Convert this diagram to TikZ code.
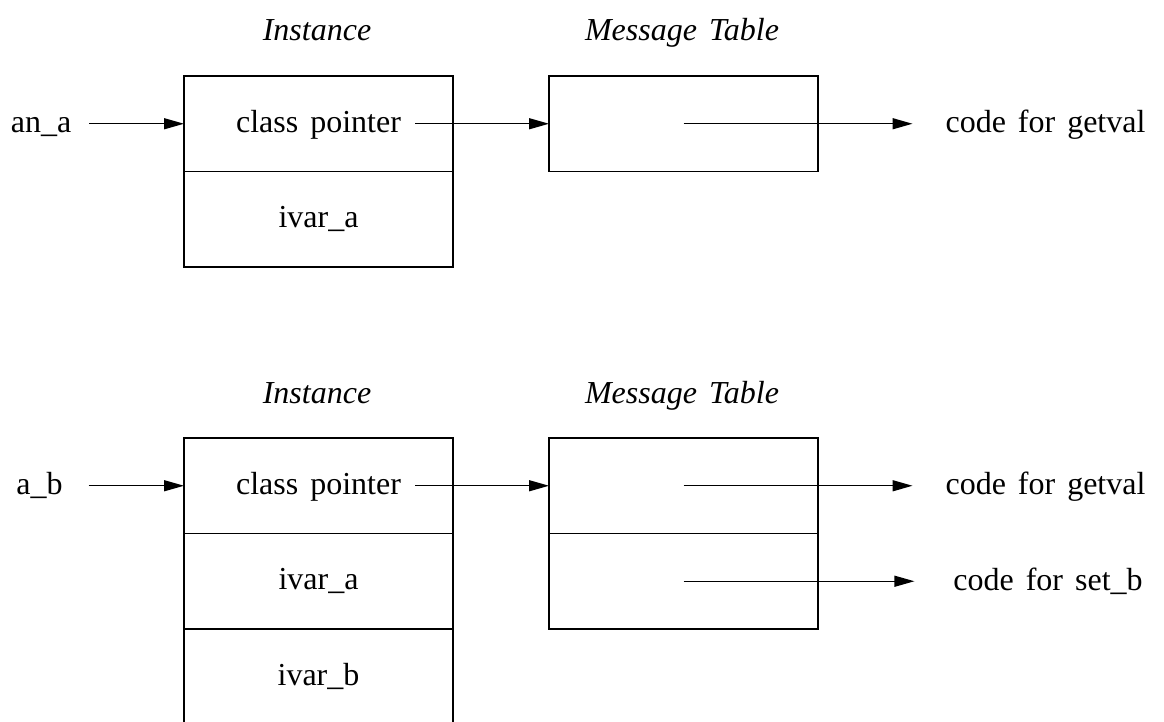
\documentclass[tikz,border=0pt]{standalone}
\usepackage{fontspec}
\setmainfont{Liberation Serif}[WordSpace=1.5]
\usetikzlibrary{arrows.meta}
\begin{document}
\begin{tikzpicture}[x=1pt,y=-1pt,
  every node/.style={font=\fontsize{32}{38}\selectfont, inner sep=0pt, outer sep=0pt},
  cell/.style={draw, line width=1.5pt, minimum width=269pt, minimum height=95.5pt},
  title/.style={font=\fontsize{32}{38}\selectfont\itshape, anchor=base},
  txt/.style={anchor=base},
  arr/.style={-{Triangle[length=20pt,width=11pt]}, line width=1.4pt}]
\clip (0,0) rectangle (1164,722);
% ---------- top diagram ----------
\node[title] (t1i) at (317,41) {Instance};
\node[title] (t1m) at (682,41) {Message Table};
\node[cell] (cp1) at (318.5,123.75) {};
\node[cell, anchor=north] (iva1) at (cp1.south) {};
\node[txt] (cp1t) at ([yshift=-8.5pt]cp1.center) {class pointer};
\node[txt] (iva1t) at ([yshift=-8.5pt]iva1.center) {ivar\_a};
\node[cell] (mt1) at (683.5,123.75) {};
\node[txt] (ana) at (41,132.5) {an\_a};
\node[txt] (cg1) at (1045.5,132.5) {code for getval};
\draw[arr] (ana.east |- cp1.west) ++(18,0) -- (cp1.west);
\draw[arr] ([xshift=96.5pt]cp1.center) -- (mt1.west);
\draw[arr] (mt1.center) -- ([xshift=-33pt]cg1.west |- mt1.center);
% ---------- bottom diagram ----------
\node[title] (t2i) at (317,403) {Instance};
\node[title] (t2m) at (682,403) {Message Table};
\node[cell] (cp2) at (318.5,485.75) {};
\node[cell, anchor=north] (iva2) at (cp2.south) {};
\node[cell, anchor=north] (ivb2) at (iva2.south) {};
\node[txt] (cp2t) at ([yshift=-8.5pt]cp2.center) {class pointer};
\node[txt] (iva2t) at ([yshift=-8.5pt]iva2.center) {ivar\_a};
\node[txt] (ivb2t) at ([yshift=-8.5pt]ivb2.center) {ivar\_b};
\node[cell] (mt2a) at (683.5,485.75) {};
\node[cell, anchor=north] (mt2b) at (mt2a.south) {};
\node[txt] (ab) at (39.5,494.5) {a\_b};
\node[txt] (cg2) at (1045.5,494.5) {code for getval};
\node[txt] (cs2) at (1048,590) {code for set\_b};
\draw[arr] (ab.east |- cp2.west) ++(26,0) -- (cp2.west);
\draw[arr] ([xshift=96.5pt]cp2.center) -- (mt2a.west);
\draw[arr] (mt2a.center) -- ([xshift=-33pt]cg2.west |- mt2a.center);
\draw[arr] (mt2b.center) -- ([xshift=-39pt]cs2.west |- mt2b.center);
\end{tikzpicture}
\end{document}
